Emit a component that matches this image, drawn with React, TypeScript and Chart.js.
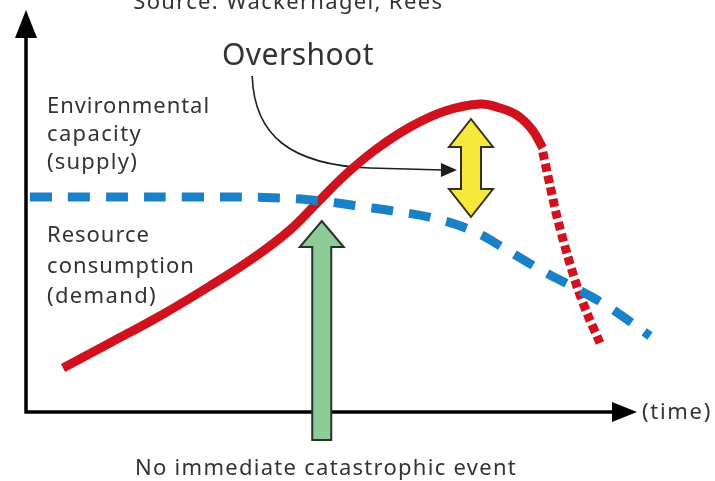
import React, { useEffect, useRef } from 'react';
import { Chart, registerables } from 'chart.js';

Chart.register(...registerables);

// ---- data (time 0..100, level 0..100) ----
const supplyTime = [0.6, 11.4, 26.8, 39.1, 46.8, 50.9, 56.5, 62.6, 68.8, 74.5, 79.5, 84.2, 89.4, 96];
const supplyLevel = [53.75, 53.75, 53.75, 53.5, 52.5, 51.5, 50.25, 48.5, 45.25, 40, 35.25, 31.25, 26.5, 19];

const demandTime = [5.7, 12.9, 20.6, 28.3, 35.2, 40.6, 44.9, 49.1, 53.7, 59.1, 64.5, 69.9, 72.9, 75.5, 77.9, 79.5];
const demandLevel = [11, 17.25, 24, 31.5, 38.75, 45.5, 52.5, 59.25, 65.5, 71.25, 75.25, 77, 76, 74.25, 70.5, 66];

const collapseTime = [79.5, 80.6, 81.7, 83.2, 84.8, 86.3, 88.3];
const collapseLevel = [65, 56.75, 48.75, 39.75, 31.25, 24.75, 17.25];

// axis extents (data units)
const timeAxisEnd = 94.0;
const levelAxisEnd = 100.5;

// annotations (data units)
const overshootArrow = {
  start: [34.8, 84.0],
  cp1: [35.1, 69.25],
  cp2: [40.6, 61.75],
  bend: [52.9, 61],
  tip: [66.3, 60.5],
};
const overshootGap = { x: 68.46, top: 73.25, bottom: 48.75 };
const crossingArrow = { x: 45.5, tip: 47.75, bottom: -7 };

const texts: { t: string; x: number; y: number; w: number; size: number }[] = [
  { t: 'Source: Wackernagel, Rees', x: 16.5, y: 100.75, w: 310, size: 22 },
  { t: 'Overshoot', x: 30.15, y: 86.75, w: 152, size: 30 },
  { t: 'Environmental', x: 3.23, y: 74.75, w: 163, size: 22 },
  { t: 'capacity', x: 3.23, y: 67.75, w: 95, size: 22 },
  { t: '(supply)', x: 3.23, y: 60.75, w: 91, size: 22 },
  { t: 'Resource', x: 3.23, y: 42.5, w: 103, size: 22 },
  { t: 'consumption', x: 3.23, y: 34.75, w: 148, size: 22 },
  { t: '(demand)', x: 3.23, y: 27.25, w: 110, size: 22 },
  { t: 'No immediate catastrophic event', x: 16.77, y: -15.75, w: 382, size: 22 },
  { t: '(time)', x: 94.77, y: -1.75, w: 70, size: 22 },
];

const RED = '#d0121e';
const BLUE = '#1a80c8';

function fitText(ctx: CanvasRenderingContext2D, text: string, x: number, y: number, width: number, size: number) {
  ctx.font = `${size}px "Noto Sans"`;
  (ctx as any).letterSpacing = '0px';
  const w = ctx.measureText(text).width;
  if (w < width) {
    (ctx as any).letterSpacing = (width - w) / text.length + 'px';
    ctx.fillText(text, x, y);
  } else {
    ctx.fillText(text, x, y, width);
  }
  (ctx as any).letterSpacing = '0px';
}

const diagramPlugin = {
  id: 'diagram',
  beforeDatasetsDraw(chart: any) {
    const ctx: CanvasRenderingContext2D = chart.ctx;
    const xs = chart.scales.x;
    const ys = chart.scales.y;
    const X = (v: number) => xs.getPixelForValue(v);
    const Y = (v: number) => ys.getPixelForValue(v);
    ctx.save();
    // axes
    ctx.strokeStyle = '#000';
    ctx.lineWidth = 3.5;
    ctx.beginPath();
    ctx.moveTo(X(0), Y(levelAxisEnd) + 20);
    ctx.lineTo(X(0), Y(0) + 1.5);
    ctx.moveTo(X(0) - 1.5, Y(0));
    ctx.lineTo(X(timeAxisEnd) - 20, Y(0));
    ctx.stroke();
    ctx.fillStyle = '#000';
    ctx.beginPath();
    ctx.moveTo(X(0), Y(levelAxisEnd));
    ctx.lineTo(X(0) + 11, Y(levelAxisEnd) + 28);
    ctx.lineTo(X(0) - 11, Y(levelAxisEnd) + 28);
    ctx.closePath();
    ctx.fill();
    ctx.beginPath();
    ctx.moveTo(X(timeAxisEnd), Y(0));
    ctx.lineTo(X(timeAxisEnd) - 25, Y(0) - 10);
    ctx.lineTo(X(timeAxisEnd) - 25, Y(0) + 10);
    ctx.closePath();
    ctx.fill();

    // curved pointer arrow
    const a = overshootArrow;
    ctx.strokeStyle = '#1e1e1e';
    ctx.lineWidth = 1.6;
    ctx.beginPath();
    ctx.moveTo(X(a.start[0]), Y(a.start[1]));
    ctx.bezierCurveTo(X(a.cp1[0]), Y(a.cp1[1]), X(a.cp2[0]), Y(a.cp2[1]), X(a.bend[0]), Y(a.bend[1]));
    ctx.lineTo(X(a.tip[0]) - 14, Y(a.tip[1]));
    ctx.stroke();
    ctx.fillStyle = '#1e1e1e';
    ctx.beginPath();
    ctx.moveTo(X(a.tip[0]), Y(a.tip[1]));
    ctx.lineTo(X(a.tip[0]) - 16, Y(a.tip[1]) - 7);
    ctx.lineTo(X(a.tip[0]) - 16, Y(a.tip[1]) + 7);
    ctx.closePath();
    ctx.fill();
    ctx.restore();
  },
  afterDatasetsDraw(chart: any) {
    const ctx: CanvasRenderingContext2D = chart.ctx;
    const xs = chart.scales.x;
    const ys = chart.scales.y;
    const X = (v: number) => xs.getPixelForValue(v);
    const Y = (v: number) => ys.getPixelForValue(v);
    ctx.save();
    ctx.lineJoin = 'miter';
    ctx.lineWidth = 2;

    // yellow double arrow
    {
      const cx = X(overshootGap.x);
      const t = Y(overshootGap.top);
      const b = Y(overshootGap.bottom);
      const hw = 22, sw = 10, hl = 28;
      ctx.beginPath();
      ctx.moveTo(cx, t);
      ctx.lineTo(cx + hw, t + hl);
      ctx.lineTo(cx + sw, t + hl);
      ctx.lineTo(cx + sw, b - hl);
      ctx.lineTo(cx + hw, b - hl);
      ctx.lineTo(cx, b);
      ctx.lineTo(cx - hw, b - hl);
      ctx.lineTo(cx - sw, b - hl);
      ctx.lineTo(cx - sw, t + hl);
      ctx.lineTo(cx - hw, t + hl);
      ctx.closePath();
      ctx.fillStyle = '#f6e93c';
      ctx.fill();
      ctx.strokeStyle = '#33301e';
      ctx.stroke();
    }

    // green up arrow
    {
      const cx = X(crossingArrow.x);
      const t = Y(crossingArrow.tip);
      const b = Y(crossingArrow.bottom);
      const hw = 22, sw = 9.5, hl = 26;
      ctx.beginPath();
      ctx.moveTo(cx, t);
      ctx.lineTo(cx + hw, t + hl);
      ctx.lineTo(cx + sw, t + hl);
      ctx.lineTo(cx + sw, b);
      ctx.lineTo(cx - sw, b);
      ctx.lineTo(cx - sw, t + hl);
      ctx.lineTo(cx - hw, t + hl);
      ctx.closePath();
      ctx.fillStyle = '#8dcb97';
      ctx.fill();
      ctx.strokeStyle = '#263528';
      ctx.stroke();
    }

    // texts
    ctx.fillStyle = '#333333';
    ctx.textBaseline = 'alphabetic';
    ctx.textAlign = 'left';
    for (const tx of texts) {
      fitText(ctx, tx.t, X(tx.x), Y(tx.y), tx.w, tx.size);
    }
    ctx.restore();
  },
};

export default function App() {
  const ref = useRef<HTMLCanvasElement>(null);
  useEffect(() => {
    if (!ref.current) return;
    const chart = new Chart(ref.current, {
      type: 'line',
      data: {
        datasets: [
          {
            label: 'Environmental capacity (supply)',
            data: supplyTime.map((t, i) => ({ x: t, y: supplyLevel[i] })),
            borderColor: BLUE,
            borderWidth: 9,
            borderDash: [22, 16],
            borderCapStyle: 'butt',
            tension: 0.4,
            pointRadius: 0,
            fill: false,
            clip: false,
          } as any,
          {
            label: 'Resource consumption (demand)',
            data: demandTime.map((t, i) => ({ x: t, y: demandLevel[i] })),
            borderColor: RED,
            borderWidth: 9,
            borderCapStyle: 'butt',
            tension: 0.4,
            pointRadius: 0,
            fill: false,
            clip: false,
          } as any,
          {
            label: 'Collapse',
            data: collapseTime.map((t, i) => ({ x: t, y: collapseLevel[i] })),
            borderColor: RED,
            borderWidth: 9,
            borderDash: [8, 4],
            borderCapStyle: 'butt',
            tension: 0.3,
            pointRadius: 0,
            fill: false,
            clip: false,
          } as any,
        ],
      },
      options: {
        animation: false,
        responsive: false,
        devicePixelRatio: 1,
        layout: { padding: { left: 26, top: 12, right: 39, bottom: 69 } },
        plugins: { legend: { display: false }, tooltip: { enabled: false }, title: { display: false } },
        events: [],
        scales: {
          x: { type: 'linear', min: 0, max: 100, display: false },
          y: { type: 'linear', min: 0, max: 100, display: false },
        },
      },
      plugins: [diagramPlugin],
    });
    return () => chart.destroy();
  }, []);
  return (
    <div style={{ position: 'fixed', left: 0, top: 0, width: 715, height: 481, background: '#fff' }}>
      <canvas ref={ref} width={715} height={481} />
    </div>
  );
}
